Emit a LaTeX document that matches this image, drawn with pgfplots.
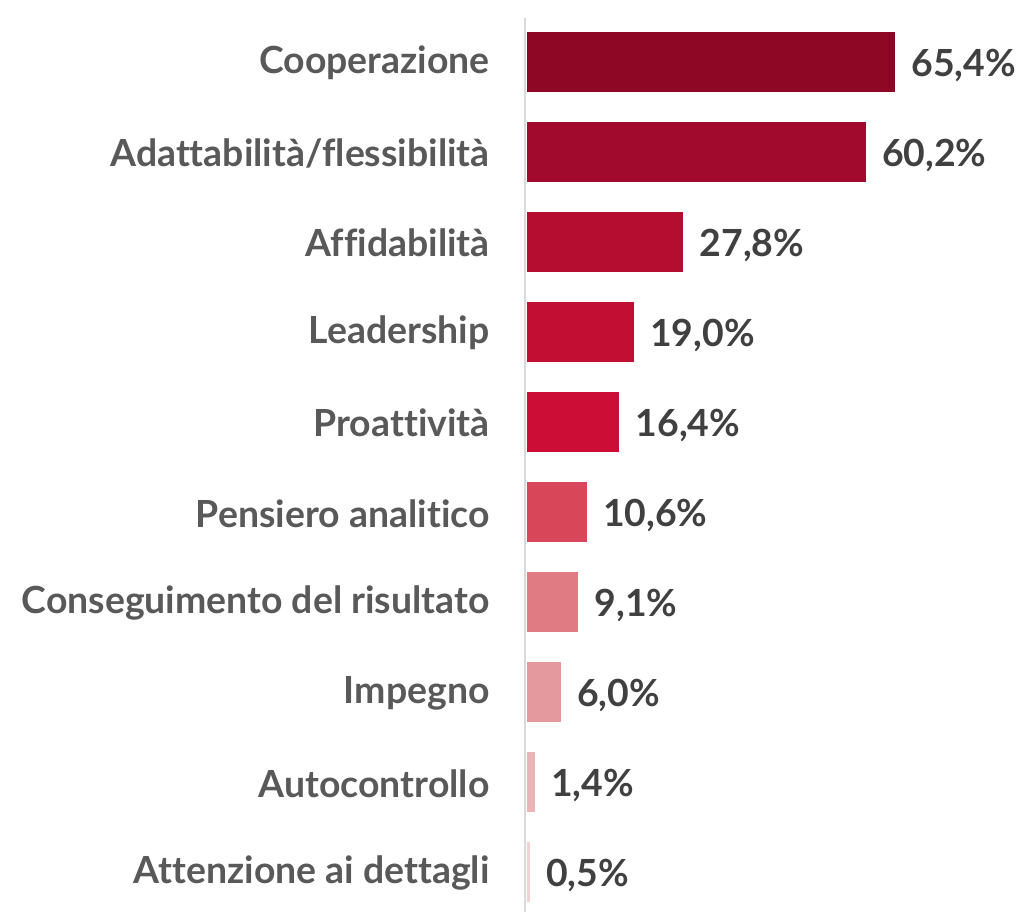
\documentclass[border=0pt]{standalone}
\usepackage{pgfplots}
\pgfplotsset{compat=1.18}
\usepackage{fontspec}
\setmainfont{Lato}[Ligatures={NoCommon}]
\definecolor{c1}{HTML}{8E0825}
\definecolor{c2}{HTML}{A10A2C}
\definecolor{c3}{HTML}{B50D30}
\definecolor{c4}{HTML}{C30E34}
\definecolor{c5}{HTML}{CC0E37}
\definecolor{c6}{HTML}{D84659}
\definecolor{c7}{HTML}{E07A83}
\definecolor{c8}{HTML}{E4999E}
\definecolor{c9}{HTML}{EBB5B8}
\definecolor{c10}{HTML}{F2D3D5}
\definecolor{labgray}{HTML}{595959}
\definecolor{valgray}{HTML}{404040}
\begin{document}
\begin{tikzpicture}
\begin{axis}[
  scale only axis,
  width=226.07pt, height=447pt,
  xmin=-0.35, xmax=80,
  ymin=-0.49, ymax=9.44,
  y dir=reverse,
  xbar, bar width=30pt, bar shift=0pt,
  axis x line=none,
  axis y line*=left,
  y axis line style={draw=black!15, line width=1pt, -},
  ytick={0,...,9},
  yticklabels={Cooperazione,Adattabilità/flessibilità,Affidabilità,Leadership,Proattività,Pensiero analitico,Conseguimento del risultato,Impegno,Autocontrollo,Attenzione ai dettagli},
  major tick length=0pt,
  yticklabel style={font=\fontsize{18.7}{22}\selectfont\bfseries, text=labgray, anchor=east, inner sep=0pt, xshift=-17.5pt, yshift=-0.5pt},
  clip=false,
  /pgf/number format/.cd, fixed, fixed zerofill, precision=1, use comma, assume math mode=true,
  /pgfplots/.cd,
  nodes near coords={\pgfmathprintnumber{\pgfplotspointmeta}\%},
  nodes near coords style={font=\fontsize{18.7}{22}\selectfont\bfseries, text=valgray, anchor=west, inner sep=0pt, xshift=8pt, yshift=-1.5pt},
  point meta=x,
]
\addplot[fill=c1, draw=none] coordinates {(65.4,0)};
\addplot[fill=c2, draw=none] coordinates {(60.2,1)};
\addplot[fill=c3, draw=none] coordinates {(27.8,2)};
\addplot[fill=c4, draw=none] coordinates {(19.0,3)};
\addplot[fill=c5, draw=none] coordinates {(16.4,4)};
\addplot[fill=c6, draw=none] coordinates {(10.6,5)};
\addplot[fill=c7, draw=none] coordinates {(9.1,6)};
\addplot[fill=c8, draw=none] coordinates {(6.0,7)};
\addplot[fill=c9, draw=none] coordinates {(1.4,8)};
\addplot[fill=c10, draw=none] coordinates {(0.5,9)};
\end{axis}
\pgfresetboundingbox
\path[use as bounding box] (-262.5pt,-1pt) rectangle (246pt,456pt);
\end{tikzpicture}
\end{document}
